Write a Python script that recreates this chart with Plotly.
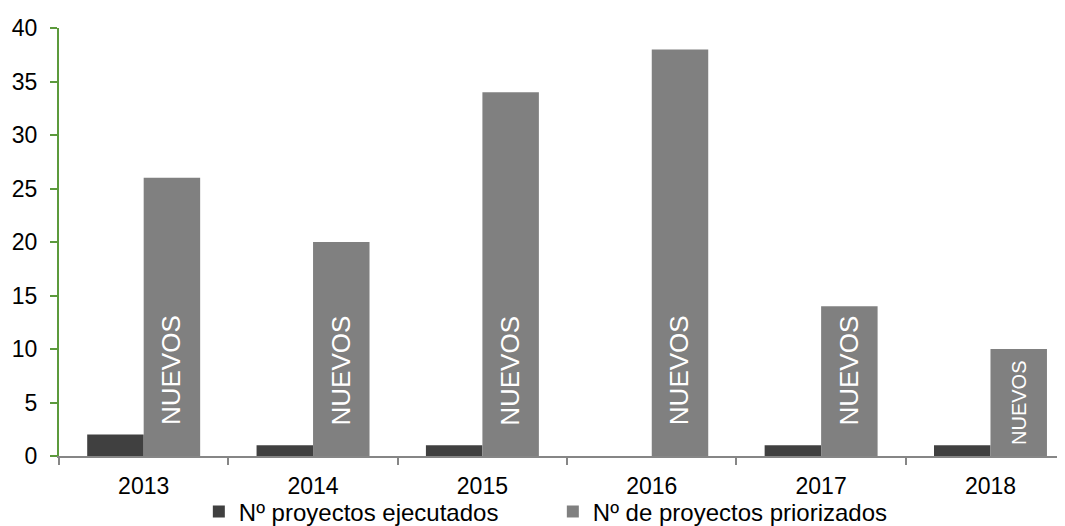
import plotly.graph_objects as go

# ---- data ----
years = ["2013", "2014", "2015", "2016", "2017", "2018"]
ejecutados = [2, 1, 1, 0, 1, 1]
priorizados = [26, 20, 34, 38, 14, 10]
bar_labels = ["NUEVOS", "NUEVOS", "NUEVOS", "NUEVOS", "NUEVOS", "NUEVOS"]
series_names = ["Nº proyectos ejecutados", "Nº de proyectos priorizados"]
y_ticks = [0, 5, 10, 15, 20, 25, 30, 35, 40]

# ---- styles ----
FONT = "Liberation Sans, Arial, sans-serif"
DARK = "#404040"
GRAY = "#808080"
GREEN = "#5C9A3C"
AXIS_GRAY = "#868686"
label_y = [8, 8, 8, 8, 8, 5]
label_size = [26, 26, 26, 26, 26, 20]

fig = go.Figure()
fig.add_trace(go.Bar(x=years, y=ejecutados, name=series_names[0],
                     marker=dict(color=DARK, line=dict(width=0))))
fig.add_trace(go.Bar(x=years, y=priorizados, name=series_names[1],
                     marker=dict(color=GRAY, line=dict(width=0))))

annotations = []
for i, (txt, ly, fs) in enumerate(zip(bar_labels, label_y, label_size)):
    annotations.append(dict(x=i, y=ly, xref="x", yref="y", text=txt,
                            textangle=-90, showarrow=False, xshift=28,
                            font=dict(family=FONT, size=fs, color="#FFFFFF")))

# page body adds an 8px margin, so the figure is sized 8px smaller
fig.update_layout(
    width=1057, height=518,
    margin=dict(l=51, r=0, t=20, b=70, autoexpand=False),
    paper_bgcolor="white", plot_bgcolor="white",
    barmode="group", bargap=0.333, bargroupgap=0,
    font=dict(family=FONT, size=23, color="black"),
    showlegend=True,
    annotations=annotations,
    legend=dict(orientation="h", x=0.139, xanchor="left",
                y=-0.078, yanchor="top",
                entrywidth=309, entrywidthmode="pixels",
                font=dict(family=FONT, size=24, color="black"),
                bgcolor="rgba(0,0,0,0)", itemwidth=30, tracegroupgap=0),
    xaxis=dict(type="category", range=[-0.5, 5.44], showline=True,
               linecolor=AXIS_GRAY, linewidth=2, ticks="outside",
               tickson="boundaries", tickcolor=AXIS_GRAY, ticklen=7,
               tickwidth=2, showgrid=False, zeroline=False,
               ticklabelstandoff=8, automargin=False,
               tickfont=dict(family=FONT, size=23, color="black")),
    yaxis=dict(range=[0, 40], tickvals=y_ticks, showline=True,
               linecolor=GREEN, linewidth=2, ticks="outside", tickcolor=GREEN,
               ticklen=7, tickwidth=2, showgrid=False, zeroline=False,
               ticklabelstandoff=8, automargin=False,
               tickfont=dict(family=FONT, size=23, color="black")),
)

fig.write_html("out.html")
